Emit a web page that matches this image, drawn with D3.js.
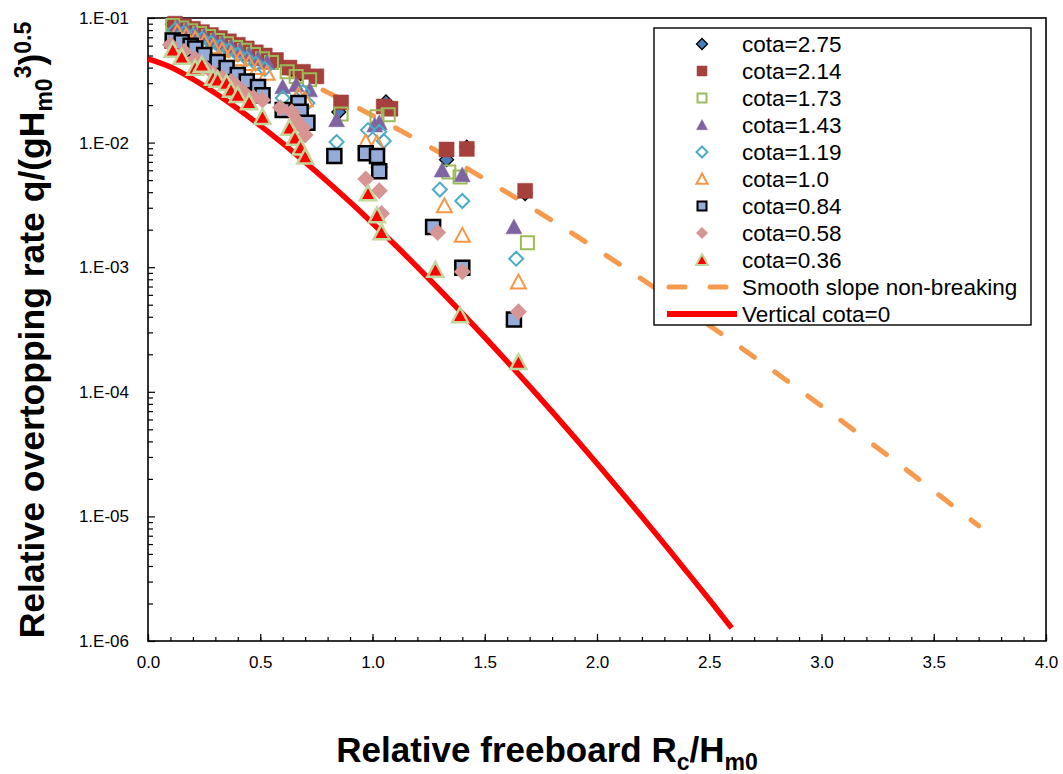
<!DOCTYPE html>
<html>
<head>
<meta charset="utf-8">
<script src="https://cdn.jsdelivr.net/npm/d3@7"></script>
<style>
  html, body { margin: 0; padding: 0; background: #fff; }
  svg { display: block; font-family: "Liberation Sans", Arial, sans-serif; }
</style>
</head>
<body>
<svg id="chart" width="1063" height="774"></svg>
<script>
// Overtopping measurements: [Rc/Hm0, q/sqrt(g Hm0^3)] per slope (cota)
const cota275 = [[0.11,0.089],[0.15,0.085],[0.19,0.080],[0.23,0.076],[0.27,0.072],[0.31,0.067],[0.35,0.063],[0.39,0.060],[0.43,0.056],[0.47,0.052],[0.51,0.049],[0.56,0.045],[0.64,0.039],[0.68,0.036],[0.74,0.034],[0.85,0.0176],[1.06,0.0212],[1.33,0.0073],[1.42,0.0092],[1.68,0.0039]];
const cota214 = [[0.12,0.090],[0.16,0.086],[0.20,0.082],[0.24,0.077],[0.28,0.073],[0.32,0.069],[0.36,0.065],[0.40,0.061],[0.44,0.057],[0.48,0.053],[0.52,0.050],[0.57,0.046],[0.63,0.040],[0.69,0.037],[0.75,0.034],[0.86,0.0210],[1.05,0.0195],[1.08,0.0187],[1.33,0.0088],[1.42,0.0089],[1.68,0.0041]];
const cota173 = [[0.11,0.087],[0.15,0.083],[0.19,0.079],[0.23,0.075],[0.27,0.071],[0.31,0.066],[0.35,0.062],[0.39,0.058],[0.43,0.055],[0.47,0.051],[0.51,0.047],[0.55,0.044],[0.62,0.037],[0.66,0.034],[0.72,0.032],[0.86,0.0170],[1.02,0.0161],[1.07,0.0167],[1.34,0.0058],[1.39,0.0053],[1.69,0.00157]];
const cota143 = [[0.13,0.084],[0.17,0.080],[0.21,0.075],[0.25,0.071],[0.29,0.067],[0.33,0.063],[0.37,0.059],[0.41,0.055],[0.45,0.051],[0.49,0.047],[0.53,0.044],[0.60,0.028],[0.66,0.029],[0.72,0.0264],[0.84,0.0152],[1.01,0.0138],[1.03,0.0144],[1.31,0.0060],[1.40,0.0055],[1.63,0.0021]];
const cota119 = [[0.12,0.080],[0.16,0.076],[0.20,0.072],[0.24,0.068],[0.28,0.063],[0.32,0.059],[0.36,0.055],[0.40,0.051],[0.44,0.047],[0.48,0.043],[0.52,0.039],[0.60,0.0228],[0.69,0.0255],[0.71,0.0208],[0.84,0.0101],[0.98,0.0126],[1.03,0.0122],[1.05,0.0103],[1.30,0.0042],[1.40,0.0034],[1.64,0.00117]];
const cota100 = [[0.13,0.077],[0.17,0.072],[0.21,0.068],[0.25,0.064],[0.29,0.059],[0.33,0.055],[0.37,0.051],[0.41,0.047],[0.45,0.043],[0.49,0.040],[0.53,0.036],[0.67,0.024],[0.70,0.022],[0.97,0.0101],[1.02,0.0099],[1.03,0.0072],[1.32,0.0031],[1.40,0.0018],[1.65,0.00076]];
const cota084 = [[0.11,0.066],[0.15,0.064],[0.19,0.060],[0.21,0.057],[0.25,0.0505],[0.31,0.0443],[0.35,0.0397],[0.40,0.0349],[0.44,0.031],[0.49,0.028],[0.51,0.024],[0.60,0.0183],[0.67,0.0208],[0.68,0.0177],[0.71,0.0144],[0.83,0.0078],[0.97,0.0082],[1.02,0.0078],[1.03,0.0059],[1.27,0.0021],[1.40,0.00099],[1.63,0.00038]];
const cota058 = [[0.10,0.061],[0.16,0.054],[0.21,0.047],[0.25,0.041],[0.29,0.036],[0.33,0.033],[0.37,0.031],[0.40,0.028],[0.43,0.025],[0.47,0.023],[0.51,0.022],[0.59,0.019],[0.64,0.0176],[0.66,0.0152],[0.69,0.0131],[0.70,0.0115],[0.97,0.0051],[1.03,0.0041],[1.04,0.0027],[1.29,0.0019],[1.40,0.00092],[1.65,0.00044]];
const cota036 = [[0.11,0.0553],[0.15,0.0486],[0.21,0.0397],[0.24,0.042],[0.29,0.033],[0.31,0.0318],[0.35,0.030],[0.37,0.0264],[0.40,0.024],[0.45,0.021],[0.51,0.016],[0.63,0.0131],[0.655,0.0109],[0.68,0.0091],[0.70,0.0077],[0.98,0.0039],[1.02,0.0026],[1.04,0.0019],[1.28,0.00095],[1.39,0.00041],[1.65,0.000173]];

// Reference curves
const smoothRc = [0,0.1,0.2,0.3,0.4,0.5,0.6,0.7,0.8,0.9,1.0,1.2,1.4,1.6,1.8,2.0,2.2,2.4,2.6,2.8,3.0,3.2,3.4,3.6,3.7];
const smoothQ  = [0.09,0.0827,0.0730,0.0632,0.0538,0.0452,0.0376,0.0310,0.0253,0.0205,0.0165,0.0105,0.00653,0.00397,0.00237,0.00139,0.000802,0.000455,0.000255,0.000141,7.69e-5,4.14e-5,2.21e-5,1.16e-5,8.4e-6];
const verticalRc = [0,0.1,0.2,0.3,0.4,0.5,0.6,0.7,0.8,0.9,1.0,1.1,1.2,1.3,1.4,1.5,1.6,1.7,1.8,1.9,2.0,2.1,2.2,2.3,2.4,2.5,2.6];
const verticalQ  = [0.047,0.0404,0.0323,0.0249,0.01868,0.01369,0.00985,0.00696,0.00485,0.00333,0.002256,0.001512,0.001001,0.000656,0.000426,0.000274,0.000175,0.0001106,6.93e-5,4.31e-5,2.66e-5,1.63e-5,9.93e-6,6.0e-6,3.6e-6,2.15e-6,1.27e-6];

// Axis ticks
const xMajorTicks = [0,0.5,1.0,1.5,2.0,2.5,3.0,3.5,4.0];
const yMajorTicks = [1e-6,1e-5,1e-4,1e-3,1e-2,1e-1];
const yTickLabels = ["1.E-06","1.E-05","1.E-04","1.E-03","1.E-02","1.E-01"];

const svg = d3.select("#chart");
const L = 148, R = 1046, T = 18, B = 641;
const x = d3.scaleLinear().domain([0, 4]).range([L, R]);
const y = d3.scaleLog().domain([1e-6, 1e-1]).range([B, T]);

// Marker shapes (size = overall width in px)
const shapeSquare = { draw(c, s) { const h = s / 2; c.moveTo(-h, -h); c.lineTo(h, -h); c.lineTo(h, h); c.lineTo(-h, h); c.closePath(); } };
const shapeDiamond = { draw(c, s) { const h = s / 2; c.moveTo(0, -h); c.lineTo(h, 0); c.lineTo(0, h); c.lineTo(-h, 0); c.closePath(); } };
const shapeTriangle = { draw(c, s) { const h = s / 2; c.moveTo(0, -h); c.lineTo(h, h * 0.85); c.lineTo(-h, h * 0.85); c.closePath(); } };

const series = [
  { name: "cota=2.75", data: cota275, shape: shapeDiamond, size: 14, fill: "#4A7EBB", stroke: "#000", sw: 1.3, lsize: 11 },
  { name: "cota=2.14", data: cota214, shape: shapeSquare, size: 15, fill: "#A5403D", stroke: "#A5403D", sw: 0.5, lsize: 10 },
  { name: "cota=1.73", data: cota173, shape: shapeSquare, size: 13, fill: "none", stroke: "#9BBB59", sw: 2, lsize: 9 },
  { name: "cota=1.43", data: cota143, shape: shapeTriangle, size: 16, fill: "#7F64A1", stroke: "#7F64A1", sw: 0.5, lsize: 11 },
  { name: "cota=1.19", data: cota119, shape: shapeDiamond, size: 14, fill: "none", stroke: "#4BACC6", sw: 2, lsize: 11 },
  { name: "cota=1.0",  data: cota100, shape: shapeTriangle, size: 15, fill: "none", stroke: "#F79646", sw: 2, lsize: 11 },
  { name: "cota=0.84", data: cota084, shape: shapeSquare, size: 14, fill: "#95ABD8", stroke: "#000", sw: 2.5, lsize: 9 },
  { name: "cota=0.58", data: cota058, shape: shapeDiamond, size: 17, fill: "#D69593", stroke: "none", sw: 0, lsize: 12 },
  { name: "cota=0.36", data: cota036, shape: shapeTriangle, size: 16, fill: "#FF0000", stroke: "#C3D69B", sw: 2.5, lsize: 12 }
];

// Axes: inward ticks, minor ticks without labels
const xMinor = d3.range(0, 41).map(i => i / 10);
const yMinor = [];
yMajorTicks.slice(0, -1).forEach(d => { for (let m = 2; m <= 9; m++) yMinor.push(d * m); });

const axisFont = "17px";
svg.append("g").attr("transform", `translate(0,${B})`)
  .call(d3.axisBottom(x).tickValues(xMinor).tickSize(-4).tickFormat(""))
  .call(g => g.select(".domain").remove())
  .call(g => g.selectAll("line").attr("stroke", "#000").attr("stroke-width", 1.2));
svg.append("g").attr("transform", `translate(0,${B})`)
  .call(d3.axisBottom(x).tickValues(xMajorTicks).tickSize(-7).tickPadding(15).tickFormat(d3.format(".1f")))
  .call(g => g.select(".domain").remove())
  .call(g => g.selectAll("line").attr("stroke", "#000").attr("stroke-width", 1.2))
  .call(g => g.selectAll("text").attr("fill", "#000").style("font-size", axisFont).style("font-family", "Liberation Sans, Arial, sans-serif"));

svg.append("g").attr("transform", `translate(${L},0)`)
  .call(d3.axisLeft(y).tickValues(yMinor).tickSize(-5).tickFormat(""))
  .call(g => g.select(".domain").remove())
  .call(g => g.selectAll("line").attr("stroke", "#000").attr("stroke-width", 1.2));
svg.append("g").attr("transform", `translate(${L},0)`)
  .call(d3.axisLeft(y).tickValues(yMajorTicks).tickSize(-7).tickPadding(19)
    .tickFormat(d => yTickLabels[yMajorTicks.indexOf(d)]))
  .call(g => g.select(".domain").remove())
  .call(g => g.selectAll("line").attr("stroke", "#000").attr("stroke-width", 1.2))
  .call(g => g.selectAll("text").attr("fill", "#000").style("font-size", axisFont).style("font-family", "Liberation Sans, Arial, sans-serif"));

// Plot frame
svg.append("rect").attr("x", L).attr("y", T).attr("width", R - L).attr("height", B - T)
  .attr("fill", "none").attr("stroke", "#000").attr("stroke-width", 1.6);

// Curves
const line = d3.line().x(d => x(d[0])).y(d => y(d[1])).curve(d3.curveMonotoneX);
const smoothData = smoothRc.map((r, i) => [r, smoothQ[i]]);
const verticalData = verticalRc.map((r, i) => [r, verticalQ[i]]);

const plot = svg.append("g");
const dashOn = 16, dashOff = 25;
const smoothPath = plot.append("path").datum(smoothData).attr("d", line)
  .attr("fill", "none").attr("stroke", "#F79A4E").attr("stroke-width", 5)
  .attr("stroke-linecap", "round").attr("stroke-dasharray", `${dashOn},${dashOff}`);
// shift the dash pattern so the curve finishes on a dash
const len = smoothPath.node().getTotalLength();
const period = dashOn + dashOff;
smoothPath.attr("stroke-dashoffset", (((len - dashOn) % period) + period) % period);
plot.append("path").datum(verticalData).attr("d", line)
  .attr("fill", "none").attr("stroke", "#FF0000").attr("stroke-width", 5.5);

// Scatter markers, drawn series by series
series.forEach(s => {
  plot.append("g").selectAll("path").data(s.data).join("path")
    .attr("transform", d => `translate(${x(d[0])},${y(d[1])})`)
    .attr("d", d3.symbol().type(s.shape).size(s.size))
    .attr("fill", s.fill).attr("stroke", s.stroke).attr("stroke-width", s.sw);
});

// Legend
const lg = svg.append("g");
lg.append("rect").attr("x", 654).attr("y", 28).attr("width", 377).attr("height", 297)
  .attr("fill", "#fff").attr("stroke", "#000").attr("stroke-width", 1.4);
const rowY = i => 44 + i * 27;
const legendFont = "22.5px";
series.forEach((s, i) => {
  lg.append("path").attr("transform", `translate(702,${rowY(i)})`)
    .attr("d", d3.symbol().type(s.shape).size(s.lsize))
    .attr("fill", s.fill).attr("stroke", s.stroke).attr("stroke-width", Math.min(s.sw, 2));
  lg.append("text").attr("x", 742).attr("y", rowY(i)).attr("dy", "0.35em")
    .style("font-size", legendFont).attr("fill", "#000").text(s.name);
});
lg.append("line").attr("x1", 669).attr("x2", 736).attr("y1", rowY(9)).attr("y2", rowY(9))
  .attr("stroke", "#F79A4E").attr("stroke-width", 5).attr("stroke-linecap", "round").attr("stroke-dasharray", `${dashOn},${dashOff}`);
lg.append("text").attr("x", 742).attr("y", rowY(9)).attr("dy", "0.35em")
  .style("font-size", legendFont).attr("fill", "#000").text("Smooth slope non-breaking");
lg.append("line").attr("x1", 667).attr("x2", 737).attr("y1", rowY(10)).attr("y2", rowY(10))
  .attr("stroke", "#FF0000").attr("stroke-width", 6);
lg.append("text").attr("x", 742).attr("y", rowY(10)).attr("dy", "0.35em")
  .style("font-size", legendFont).attr("fill", "#000").text("Vertical cota=0");

// Axis titles
const xt = svg.append("text").attr("x", 547).attr("y", 762).attr("text-anchor", "middle")
  .style("font-size", "35px").style("font-weight", "bold").attr("fill", "#000");
xt.append("tspan").text("Relative freeboard R");
xt.append("tspan").attr("dy", 8).style("font-size", "23px").text("c");
xt.append("tspan").attr("dy", -8).text("/H");
xt.append("tspan").attr("dy", 8).style("font-size", "23px").text("m0");

const yt = svg.append("text").attr("transform", "translate(44,330) rotate(-90)").attr("text-anchor", "middle")
  .style("font-size", "35.5px").style("font-weight", "bold").attr("fill", "#000");
yt.append("tspan").text("Relative overtopping rate q/(gH");
yt.append("tspan").attr("dy", 8).style("font-size", "23px").text("m0");
yt.append("tspan").attr("dy", -21).style("font-size", "23px").text("3");
yt.append("tspan").attr("dy", 13).text(")");
yt.append("tspan").attr("dy", -13).style("font-size", "23px").text("0.5");
</script>
</body>
</html>
